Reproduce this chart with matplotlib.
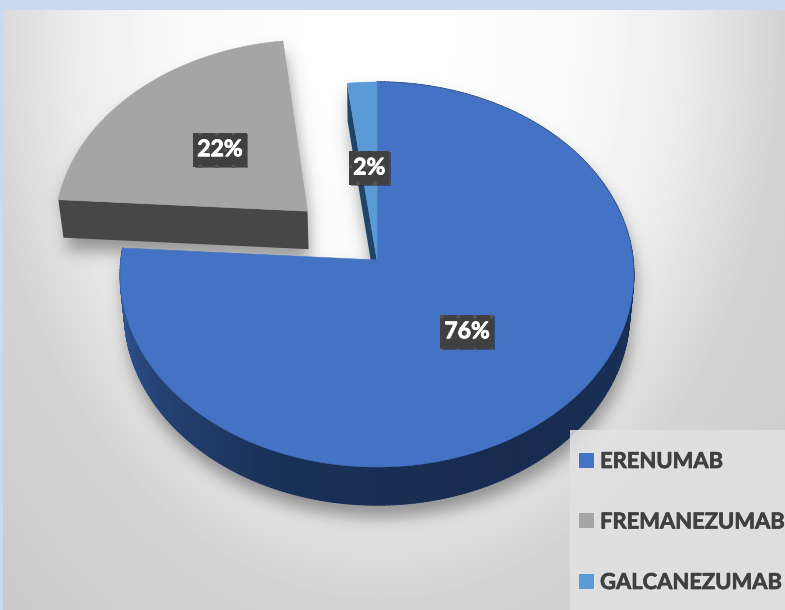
import numpy as np
import matplotlib
matplotlib.use('Agg')
import matplotlib.pyplot as plt
import matplotlib.patheffects as pe
from matplotlib.collections import PolyCollection
from matplotlib.patches import Patch, Polygon, Rectangle
from matplotlib.path import Path

plt.rcParams['font.family'] = ['Lato', 'DejaVu Sans']
plt.rcParams['hatch.linewidth'] = 0.5

names = ['ERENUMAB', 'FREMANEZUMAB', 'GALCANEZUMAB']
percents = [76, 22, 2]
explode = [0.0, 0.38, 0.0]
colors = ['#4472C4', '#A5A5A5', '#5B9BD5']

W, H = 785, 610
CX, CY = 377, 260
RX, RY = 256, 191.4
PERSP = 0.0753
DEPTH = 38
BOTTOM_SHRINK = 0.984


def project(x, y, low=False):
    s = 1 / (1 + PERSP * y)
    px = CX + RX * x * s
    py = CY - RY * y * s
    if low:
        px = CX + (px - CX) * BOTTOM_SHRINK
        py = py + DEPTH
    return np.column_stack([px, py])


def wedge(start, end, off, low=False, radius=1.0):
    # angles are clockwise from twelve o'clock, in degrees
    t = np.radians(np.linspace(start, end, max(int(end - start) * 2, 8)))
    mid = np.radians((start + end) / 2)
    ox, oy = off * np.sin(mid), off * np.cos(mid)
    xs = np.r_[ox, ox + radius * np.sin(t)]
    ys = np.r_[oy, oy + radius * np.cos(t)]
    return project(xs, ys, low)


def gauss_blur(a, sigma):
    r = int(sigma * 3)
    k = np.exp(-0.5 * (np.arange(-r, r + 1) / sigma) ** 2)
    k /= k.sum()
    a = np.apply_along_axis(lambda v: np.convolve(v, k, mode='same'), 0, a)
    return np.apply_along_axis(lambda v: np.convolve(v, k, mode='same'), 1, a)


fig = plt.figure(figsize=(W / 100, H / 100), dpi=100, facecolor='#C9D9F0')
ax = fig.add_axes([0, 0, 1, 1])
ax.axis('off')

# panel background: soft radial grey, inset from the pale blue page
gx, gy = np.meshgrid(np.arange(W) + 0.5, np.arange(H) + 0.5)
dist = np.hypot(gx - 380, (gy - 30) * 0.7)
shade = np.interp(dist, [0, 200, 300, 400, 600], [1.0, 0.98, 0.93, 0.83, 0.78])
ax.imshow(shade[10:, 3:], cmap='gray', vmin=0, vmax=1, extent=(3, W, H, 10), zorder=0)

angles = np.cumsum([0] + [p * 3.6 for p in percents])

# soft shadow under the whole pie
pts = np.column_stack([gx.ravel(), gy.ravel()])
mask = np.zeros(gx.shape, dtype=bool)
for i in range(len(percents)):
    for low in (False, True):
        poly = wedge(angles[i], angles[i + 1], explode[i], low)
        mask |= Path(poly).contains_points(pts).reshape(gx.shape)
    poly = wedge(angles[i], angles[i + 1], explode[i], True) + [0, -DEPTH / 2]
    mask |= Path(poly).contains_points(pts).reshape(gx.shape)
soft = gauss_blur(np.roll(np.roll(mask.astype(float), 12, axis=0), 2, axis=1), 8)
rgba = np.zeros(gx.shape + (4,))
rgba[..., :3] = 0.3
rgba[..., 3] = soft * 0.55
ax.imshow(rgba, extent=(0, W, H, 0), zorder=1)

# side walls
ramp_angle = [0, 90, 150, 200, 240, 274]
ramp = np.array([[0.10, 0.19, 0.34], [0.10, 0.19, 0.34], [0.09, 0.17, 0.31],
                 [0.10, 0.19, 0.34], [0.15, 0.27, 0.48], [0.19, 0.36, 0.63]])
t = np.linspace(angles[0], angles[1], 300)
xs, ys = np.sin(np.radians(t)), np.cos(np.radians(t))
up, dn = project(xs, ys), project(xs, ys, True)
quads = [[up[i], up[i + 1], dn[i + 1], dn[i]] for i in range(len(t) - 1)]
cols = np.column_stack([np.interp(t[:-1], ramp_angle, ramp[:, c]) for c in range(3)])
ax.add_collection(PolyCollection(quads, facecolors=cols, edgecolors=cols, linewidths=1.0, zorder=2))

# cut faces: grey slice front and the thin one beside the small slice
mid = np.radians((angles[1] + angles[2]) / 2)
ox, oy = explode[1] * np.sin(mid), explode[1] * np.cos(mid)
ex, ey = ox + np.sin(np.radians(angles[1])), oy + np.cos(np.radians(angles[1]))
fx = np.array([ox, ex])
fy = np.array([oy, ey])
ax.add_patch(Polygon(np.r_[project(fx, fy), project(fx, fy, True)[::-1]], fc='#474747', ec='none', zorder=2))

ex, ey = np.sin(np.radians(angles[2])), np.cos(np.radians(angles[2]))
fx = np.array([0, ex])
fy = np.array([0, ey])
ax.add_patch(Polygon(np.r_[project(fx, fy), project(fx, fy, True)[::-1]], fc='#1F4468', ec='none', zorder=2))

# top faces
for i, c in enumerate(colors):
    ax.add_patch(Polygon(wedge(angles[i], angles[i + 1], explode[i]), fc=c, ec=c, lw=0.4, zorder=3))

# percent labels on dotted dark boxes
renderer = fig.canvas.get_renderer()
heavy = [pe.withStroke(linewidth=0.6, foreground='white')]
for i, p in enumerate(percents):
    m = np.radians((angles[i] + angles[i + 1]) / 2)
    lx = (explode[i] + 0.5) * np.sin(m)
    ly = (explode[i] + 0.5) * np.cos(m)
    (px, py), = project(np.array([lx]), np.array([ly]))
    txt = ax.text(px, py, f'{p}%', color='white', fontsize=16.5, fontweight='bold',
                  ha='center', va='center', zorder=6, path_effects=heavy)
    bw = txt.get_window_extent(renderer).width + 8
    ax.add_patch(Rectangle((px - bw / 2, py - 17), bw, 34, fc='#404040', ec='#555555', lw=0, hatch='.', zorder=5,
                           path_effects=[pe.SimplePatchShadow(offset=(1, -1), alpha=0.4), pe.Normal()]))

# legend on a lighter panel
ax.add_patch(Rectangle((570, 430), 215, 180, fc='#E2E2E2', ec='none', alpha=0.85, zorder=4))
handles = [Patch(fc=c, ec='none') for c in colors]
leg = ax.legend(handles, names, loc='upper left', bbox_to_anchor=(579 / W, 1 - 451 / H), frameon=False,
                prop=dict(family=['Lato', 'DejaVu Sans'], weight='bold', size=15.8), labelcolor='#404040',
                handlelength=0.68, handleheight=0.68, handletextpad=0.28, labelspacing=1.8,
                borderpad=0, borderaxespad=0)
leg.set_zorder(6)
for label in leg.get_texts():
    label.set_path_effects([pe.withStroke(linewidth=0.5, foreground='#404040')])

ax.set_xlim(0, W)
ax.set_ylim(H, 0)
fig.savefig('out.png', dpi=100, facecolor=fig.get_facecolor())
